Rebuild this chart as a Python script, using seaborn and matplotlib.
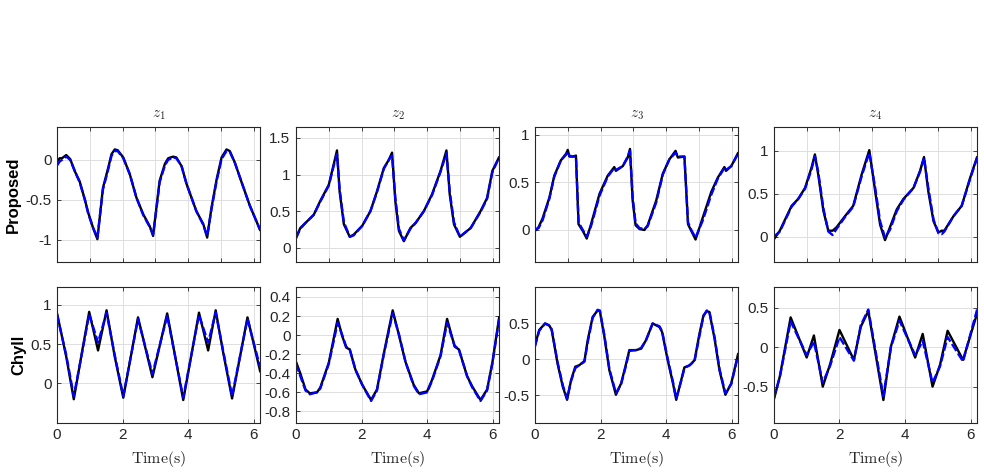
import numpy as np
import pandas as pd
import seaborn as sns
import matplotlib
matplotlib.use('Agg')
import matplotlib.pyplot as plt

# Data_read off the figure (black = true, blue dashed = estimate)
# --- Proposed row ---
t_p1 = [0, 0.08, 0.15, 0.28, 0.4, 0.55, 0.69, 0.85, 0.95, 1.1, 1.23, 1.4, 1.56, 1.66, 1.76, 1.85, 2.02, 2.22, 2.42, 2.63,
        2.83, 2.93, 3.03, 3.13, 3.29, 3.39, 3.54, 3.64, 3.8, 3.95, 4.25, 4.46, 4.58, 4.71, 4.87, 5.02, 5.17, 5.27, 5.42, 5.58,
        5.88, 6.2]
prop_z1_true = [-0.02, 0.02, 0.02, 0.06, 0.01, -0.15, -0.27, -0.5, -0.66, -0.85, -0.99, -0.35, -0.1, 0.07, 0.13, 0.12, 0.03,
                -0.18, -0.47, -0.68, -0.83, -0.95, -0.6, -0.26, -0.05, 0.02, 0.04, 0.03, -0.08, -0.3, -0.64, -0.8, -0.97,
                -0.6, -0.24, 0.03, 0.13, 0.11, -0.03, -0.22, -0.57, -0.88]
prop_z1_est = [-0.07, -0.02, 0.0, 0.04, 0.0, -0.15, -0.28, -0.5, -0.67, -0.85, -0.97, -0.37, -0.12, 0.05, 0.11, 0.11, 0.02,
               -0.18, -0.47, -0.69, -0.84, -0.93, -0.62, -0.28, -0.07, 0.0, 0.03, 0.02, -0.08, -0.3, -0.64, -0.81, -0.95,
               -0.62, -0.26, 0.01, 0.11, 0.1, -0.03, -0.22, -0.57, -0.88]

t_p2 = [0, 0.13, 0.29, 0.54, 0.74, 1.0, 1.15, 1.25, 1.33, 1.46, 1.64, 1.76, 2.02, 2.27, 2.47, 2.68, 2.83, 2.93, 3.03, 3.14,
        3.29, 3.49, 3.65, 3.9, 4.15, 4.41, 4.59, 4.69, 4.82, 5.0, 5.33, 5.63, 5.83, 5.99, 6.2]
prop_z2_true = [0.14, 0.27, 0.34, 0.45, 0.64, 0.86, 1.14, 1.33, 0.77, 0.32, 0.15, 0.18, 0.30, 0.5, 0.77, 1.09, 1.2, 1.3,
                0.64, 0.23, 0.09, 0.27, 0.34, 0.5, 0.73, 1.05, 1.33, 0.73, 0.32, 0.15, 0.27, 0.5, 0.68, 1.05, 1.24]
prop_z2_est = [0.13, 0.26, 0.34, 0.45, 0.63, 0.85, 1.12, 1.28, 0.8, 0.35, 0.15, 0.17, 0.3, 0.5, 0.76, 1.08, 1.2, 1.26,
               0.68, 0.26, 0.1, 0.26, 0.34, 0.5, 0.72, 1.04, 1.29, 0.77, 0.35, 0.15, 0.27, 0.49, 0.67, 1.03, 1.24]

t_p3 = [0, 0.11, 0.23, 0.44, 0.59, 0.79, 0.95, 1.0, 1.05, 1.15, 1.25, 1.33, 1.46, 1.58, 1.71, 1.97, 2.22, 2.42, 2.47, 2.68,
        2.83, 2.9, 2.98, 3.07, 3.19, 3.34, 3.44, 3.7, 3.9, 4.1, 4.29, 4.36, 4.56, 4.67, 4.77, 4.9, 5.12, 5.38, 5.58, 5.78,
        5.83, 5.99, 6.2]
prop_z3_true = [-0.01, 0.03, 0.12, 0.34, 0.57, 0.73, 0.8, 0.84, 0.77, 0.77, 0.78, 0.06, -0.01, -0.09, 0.06, 0.38, 0.57,
                0.66, 0.62, 0.67, 0.76, 0.85, 0.31, 0.05, 0.01, 0.0, 0.05, 0.31, 0.59, 0.74, 0.83, 0.76, 0.77, 0.06,
                -0.01, -0.1, 0.13, 0.4, 0.55, 0.66, 0.62, 0.67, 0.81]
prop_z3_est = [0.0, 0.02, 0.1, 0.33, 0.56, 0.73, 0.79, 0.82, 0.78, 0.77, 0.77, 0.08, 0.0, -0.07, 0.04, 0.36, 0.56, 0.65,
               0.63, 0.67, 0.77, 0.83, 0.35, 0.07, 0.02, 0.01, 0.04, 0.29, 0.58, 0.74, 0.81, 0.77, 0.77, 0.08, 0.0, -0.08,
               0.1, 0.37, 0.54, 0.65, 0.63, 0.67, 0.8]

t_p4 = [0, 0.18, 0.34, 0.54, 0.74, 0.95, 1.15, 1.25, 1.35, 1.51, 1.66, 1.79, 1.91, 2.17, 2.42, 2.68, 2.91, 3.09, 3.24, 3.39,
        3.54, 3.75, 3.95, 4.26, 4.46, 4.58, 4.71, 4.87, 5.02, 5.12, 5.2, 5.48, 5.73, 5.99, 6.2]
prop_z4_true = [-0.03, 0.07, 0.2, 0.36, 0.44, 0.57, 0.81, 0.96, 0.73, 0.3, 0.07, 0.07, 0.11, 0.24, 0.36, 0.73, 1.01, 0.53,
                0.14, -0.04, 0.11, 0.32, 0.44, 0.57, 0.77, 0.93, 0.53, 0.18, 0.05, 0.07, 0.07, 0.24, 0.36, 0.69, 0.93]
prop_z4_est = [0.0, 0.06, 0.19, 0.35, 0.44, 0.56, 0.79, 0.94, 0.76, 0.33, 0.06, 0.02, 0.09, 0.23, 0.35, 0.71, 0.98, 0.57,
               0.18, -0.01, 0.08, 0.3, 0.43, 0.57, 0.76, 0.92, 0.57, 0.2, 0.04, 0.03, 0.06, 0.24, 0.36, 0.68, 0.92]

# --- Chyll row ---
t_c1 = [0, 0.28, 0.51, 0.79, 0.98, 1.25, 1.51, 1.76, 2.02, 2.47, 2.91, 3.36, 3.85, 4.33, 4.61, 4.84, 5.07, 5.34, 5.81, 6.2]
chyll_z1_true = [0.89, 0.34, -0.2, 0.47, 0.91, 0.42, 0.93, 0.34, -0.18, 0.84, 0.08, 0.89, -0.21, 0.9, 0.42, 0.93, 0.39,
                 -0.19, 0.84, 0.15]
chyll_z1_est = [0.87, 0.36, -0.16, 0.45, 0.88, 0.52, 0.9, 0.36, -0.16, 0.82, 0.12, 0.86, -0.18, 0.87, 0.52, 0.9, 0.41,
                -0.16, 0.82, 0.2]

t_c2 = [0, 0.13, 0.29, 0.42, 0.64, 0.74, 1.0, 1.27, 1.41, 1.53, 1.64, 1.81, 2.02, 2.29, 2.47, 2.68, 2.95, 3.14, 3.34, 3.59,
        3.75, 4.0, 4.15, 4.41, 4.61, 4.84, 4.97, 5.22, 5.38, 5.63, 5.83, 5.99, 6.2]
chyll_z2_true = [-0.28, -0.4, -0.57, -0.61, -0.6, -0.55, -0.29, 0.17, -0.01, -0.13, -0.15, -0.36, -0.52, -0.68, -0.57,
                 -0.19, 0.26, 0.0, -0.28, -0.52, -0.61, -0.59, -0.47, -0.21, 0.17, -0.12, -0.15, -0.43, -0.54, -0.68,
                 -0.57, -0.29, 0.19]
chyll_z2_est = [-0.3, -0.43, -0.58, -0.62, -0.6, -0.56, -0.3, 0.13, 0.0, -0.12, -0.15, -0.36, -0.52, -0.69, -0.58, -0.2,
                0.23, 0.01, -0.28, -0.53, -0.62, -0.6, -0.48, -0.22, 0.13, -0.11, -0.15, -0.43, -0.55, -0.69, -0.58,
                -0.3, 0.17]

t_c3 = [0, 0.13, 0.31, 0.44, 0.51, 0.69, 0.85, 0.98, 1.1, 1.23, 1.35, 1.51, 1.61, 1.76, 1.91, 1.98, 2.12, 2.27, 2.47, 2.63,
        2.78, 2.88, 3.08, 3.24, 3.39, 3.59, 3.8, 3.88, 4.05, 4.21, 4.31, 4.46, 4.56, 4.72, 4.87, 5.02, 5.14, 5.24, 5.32,
        5.48, 5.63, 5.81, 5.99, 6.2]
chyll_z3_true = [0.2, 0.41, 0.5, 0.47, 0.41, -0.06, -0.38, -0.56, -0.29, -0.1, -0.08, -0.02, 0.27, 0.59, 0.68, 0.67, 0.31,
                 -0.15, -0.49, -0.33, -0.06, 0.13, 0.13, 0.15, 0.27, 0.5, 0.45, 0.38, -0.01, -0.33, -0.56, -0.29, -0.11,
                 -0.08, -0.01, 0.36, 0.61, 0.67, 0.66, 0.29, -0.15, -0.49, -0.33, 0.08]
chyll_z3_est = [0.18, 0.4, 0.5, 0.47, 0.42, -0.04, -0.36, -0.54, -0.3, -0.12, -0.08, -0.03, 0.24, 0.58, 0.69, 0.68, 0.33,
                -0.13, -0.47, -0.34, -0.08, 0.12, 0.13, 0.16, 0.27, 0.5, 0.46, 0.39, 0.01, -0.31, -0.54, -0.3, -0.12,
                -0.08, -0.02, 0.33, 0.6, 0.68, 0.67, 0.31, -0.13, -0.47, -0.34, 0.06]

t_c4 = [0, 0.18, 0.51, 1.0, 1.22, 1.49, 1.71, 2.0, 2.44, 2.65, 2.88, 3.34, 3.57, 3.83, 4.31, 4.54, 4.84, 5.07, 5.3, 5.77, 6.2]
chyll_z4_true = [-0.66, -0.37, 0.38, -0.13, 0.15, -0.5, -0.22, 0.22, -0.16, 0.26, 0.46, -0.67, 0.01, 0.39, -0.13, 0.17,
                 -0.5, -0.22, 0.21, -0.16, 0.43]
chyll_z4_est = [-0.64, -0.38, 0.33, -0.1, 0.07, -0.45, -0.24, 0.13, -0.17, 0.28, 0.48, -0.62, 0.0, 0.34, -0.1, 0.08,
                -0.45, -0.24, 0.13, -0.18, 0.48]

titles = ['$z_1$', '$z_2$', '$z_3$', '$z_4$']
row_names = ['Proposed', 'Chyll']
panels = [
    [(t_p1, prop_z1_true, prop_z1_est), (t_p2, prop_z2_true, prop_z2_est),
     (t_p3, prop_z3_true, prop_z3_est), (t_p4, prop_z4_true, prop_z4_est)],
    [(t_c1, chyll_z1_true, chyll_z1_est), (t_c2, chyll_z2_true, chyll_z2_est),
     (t_c3, chyll_z3_true, chyll_z3_est), (t_c4, chyll_z4_true, chyll_z4_est)],
]
ylims = [[(-1.28, 0.41), (-0.2, 1.65), (-0.34, 1.08), (-0.3, 1.28)],
         [(-0.5, 1.22), (-0.92, 0.5), (-0.88, 1.0), (-0.96, 0.76)]]
yticks = [[[-1, -0.5, 0], [0, 0.5, 1, 1.5], [0, 0.5, 1], [0, 0.5, 1]],
          [[0, 0.5, 1], [-0.8, -0.6, -0.4, -0.2, 0, 0.2, 0.4], [-0.5, 0, 0.5], [-0.5, 0, 0.5]]]

sns.set_style('whitegrid')
plt.rcParams['font.family'] = ['Liberation Sans', 'DejaVu Sans']
plt.rcParams['mathtext.fontset'] = 'cm'
ink = '#262626'

fig, axes = plt.subplots(2, 4, figsize=(9.84, 4.73), dpi=100)
fig.subplots_adjust(left=0.058, right=0.993, top=0.7315, bottom=0.106, wspace=0.176, hspace=0.185)

for r in range(2):
    for c in range(4):
        ax = axes[r, c]
        t, y_true, y_est = panels[r][c]
        df = pd.DataFrame({'t': t, 'true': y_true, 'est': y_est})
        sns.lineplot(data=df, x='t', y='true', ax=ax, color='k', lw=1.7)
        sns.lineplot(data=df, x='t', y='est', ax=ax, color='b', lw=1.7)
        ax.lines[-1].set_dashes([3.5, 1.2])
        ax.set_xlim(0, 6.2)
        ax.set_ylim(*ylims[r][c])
        ax.set_yticks(yticks[r][c])
        ax.set_yticklabels([f'{v:g}' for v in yticks[r][c]])
        if r == 0:
            ax.set_xticks(range(7))
            ax.set_xticklabels([])
            ax.set_xlabel('')
            ax.set_title(titles[c], fontsize=11, pad=7, color=ink)
        else:
            ax.set_xticks([0, 2, 4, 6])
            ax.set_xlabel('$\\mathrm{Time(s)}$', fontsize=11.5, color=ink, labelpad=5)
        ax.set_ylabel(row_names[r] if c == 0 else '', fontsize=12, fontweight='bold', color='k', labelpad=3)
        ax.grid(True, color='#dedede', lw=0.7)
        ax.tick_params(direction='in', length=3, width=0.6, top=True, right=True, bottom=True, left=True,
                       color=ink, labelcolor=ink, labelsize=11, pad=4)
        for s in ax.spines.values():
            s.set_visible(True)
            s.set_color(ink)
            s.set_linewidth(0.8)

plt.savefig('out.png', dpi=100)
